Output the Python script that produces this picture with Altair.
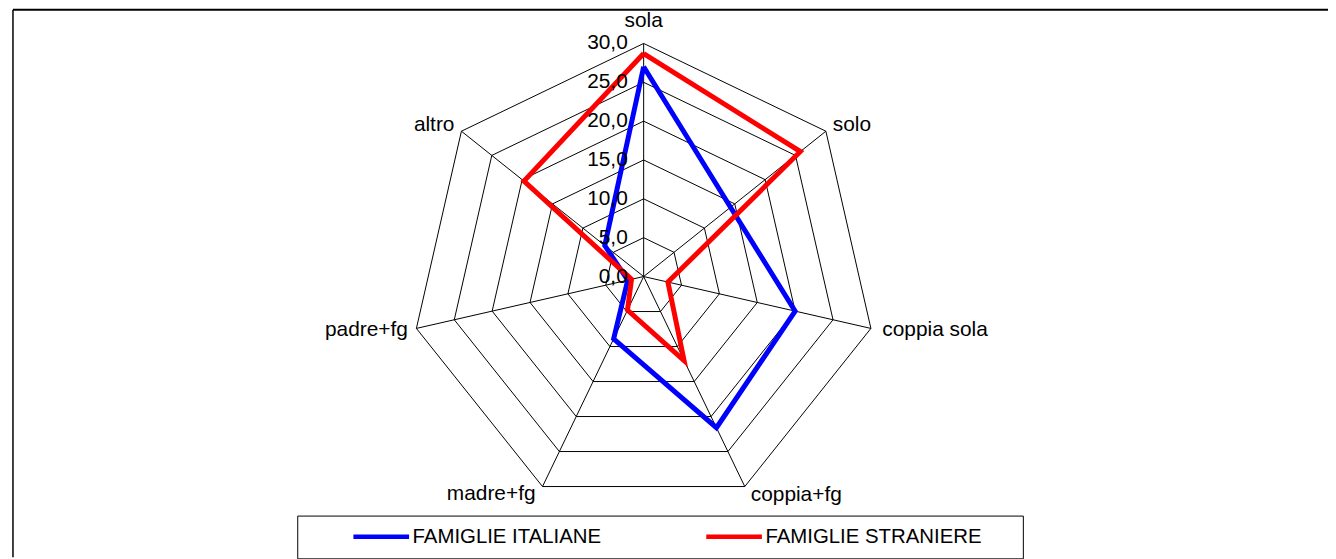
import math
import altair as alt
import pandas as pd

# ---------------- data ----------------
categories = ["sola", "solo", "coppia sola", "coppia+fg", "madre+fg", "padre+fg", "altro"]
italiane = [27.0, 14.3, 20.0, 21.6, 8.9, 2.1, 6.4]
straniere = [28.7, 25.8, 3.2, 12.0, 4.8, 1.6, 19.7]
series_names = ["FAMIGLIE ITALIANE", "FAMIGLIE STRANIERE"]
series_colors = ["#0000FF", "#FF0000"]
ring_values = [5, 10, 15, 20, 25, 30]
tick_values = [0, 5, 10, 15, 20, 25, 30]
tick_labels = ["0,0", "5,0", "10,0", "15,0", "20,0", "25,0", "30,0"]

# ---------------- layout ----------------
W, H = 1323, 551
CX, CY = 634.5, 268.5          # centre of the radar inside the plot area (px)
RMAX = 30.0
R_PX = 234.5                   # pixel radius of the 30 ring
k = R_PX / RMAX
xdom = [-CX / k, (W - CX) / k]
ydom = [-(H - CY) / k, CY / k]
FONT = "Liberation Sans"

n = len(categories)
angles = [2 * math.pi * i / n for i in range(n)]


def px(r, a):
    return r * math.sin(a), r * math.cos(a)


# series table (closed polygons)
rows = []
for name, vals in zip(series_names, [italiane, straniere]):
    for j in range(n + 1):
        i = j % n
        x, y = px(vals[i], angles[i])
        rows.append({"serie": name, "cat": categories[i], "order": j, "x": x, "y": y})
series_df = pd.DataFrame(rows)

# ring table
ring_rows = []
for rv in ring_values:
    for j in range(n + 1):
        i = j % n
        x, y = px(rv, angles[i])
        ring_rows.append({"ring": rv, "order": j, "x": x, "y": y})
ring_df = pd.DataFrame(ring_rows)

# spokes
spoke_rows = []
for i in range(n):
    x, y = px(RMAX, angles[i])
    spoke_rows.append({"x": 0.0, "y": 0.0, "x2": x, "y2": y})
spoke_df = pd.DataFrame(spoke_rows)

# tick labels
tick_df = pd.DataFrame({"x": [0.0] * len(tick_values), "y": [float(v) for v in tick_values], "label": tick_labels})

# category labels
lab_rows = []
for i, c in enumerate(categories):
    x, y = px(RMAX, angles[i])
    lab_rows.append({"cat": c, "x": x, "y": y})
lab_df = pd.DataFrame(lab_rows)

xs = alt.Scale(domain=xdom, nice=False, zero=False)
ys = alt.Scale(domain=ydom, nice=False, zero=False)
X = alt.X("x:Q", scale=xs, axis=None)
Y = alt.Y("y:Q", scale=ys, axis=None)

rings = alt.Chart(ring_df).mark_line(color="black", strokeWidth=1).encode(
    x=X, y=Y, detail="ring:N", order="order:Q"
)
spokes = alt.Chart(spoke_df).mark_rule(color="black", strokeWidth=1).encode(
    x=X, y=Y, x2="x2:Q", y2="y2:Q"
)

legend = alt.Legend(
    orient="none", legendX=286, legendY=509, direction="horizontal", title=" ",
    titleOrient="right", titlePadding=30, titleFontSize=20, titleFont=FONT,
    symbolType="stroke", symbolSize=3136, symbolStrokeWidth=4.5,
    labelFont=FONT, labelFontSize=20.5, labelColor="black", labelLimit=0,
    strokeColor="black", padding=11, symbolOffset=43, labelOffset=1,
    columnPadding=60, clipHeight=20,
)
lines = alt.Chart(series_df).mark_line(strokeWidth=5, strokeJoin="miter", strokeCap="butt").encode(
    x=X, y=Y,
    color=alt.Color("serie:N", scale=alt.Scale(domain=series_names, range=series_colors), legend=legend),
    order="order:Q",
)

ticks = alt.Chart(tick_df).mark_text(
    align="right", baseline="middle", dx=-16, font=FONT, fontSize=21, color="black"
).encode(x=X, y=Y, text="label:N")

label_style = {
    "sola": dict(align="center", dx=0, dy=-17),
    "solo": dict(align="left", dx=7, dy=0),
    "coppia sola": dict(align="left", dx=11.5, dy=8),
    "coppia+fg": dict(align="left", dx=6, dy=14.5),
    "madre+fg": dict(align="right", dx=-7, dy=14),
    "padre+fg": dict(align="right", dx=-8.5, dy=8),
    "altro": dict(align="right", dx=-7, dy=0),
}
label_layers = []
for c in categories:
    st = label_style[c]
    label_layers.append(
        alt.Chart(lab_df).transform_filter(alt.datum.cat == c).mark_text(
            baseline="alphabetic", font=FONT, fontSize=21, color="black", **st
        ).encode(x=X, y=Y, text="cat:N")
    )

one = pd.DataFrame({"a": [0]})
top_border = alt.Chart(one).mark_rule(color="black", strokeWidth=2).encode(
    x=alt.value(0), x2=alt.value(W), y=alt.value(0)
)
left_border = alt.Chart(one).mark_rule(color="black", strokeWidth=1.5).encode(
    x=alt.value(0), y=alt.value(0), y2=alt.value(H)
)

chart = alt.layer(
    rings, spokes, lines, ticks, *label_layers, top_border, left_border
).properties(
    width=W, height=H,
    autosize=alt.AutoSizeParams(type="none"),
    padding={"left": 5, "top": 0, "right": 0, "bottom": 0},
    background="white",
).configure_view(stroke=None)

chart.save("out.html", embed_options={"renderer": "svg", "actions": False})
